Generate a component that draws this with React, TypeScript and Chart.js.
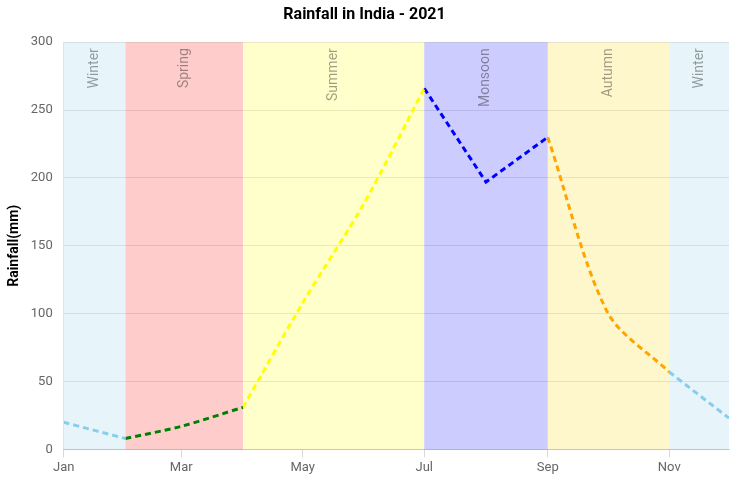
import React, { useEffect, useRef } from "react";
import { Chart, registerables } from "chart.js";

Chart.register(...registerables);

const year = 2021;
const months = ["Jan", "Feb", "Mar", "Apr", "May", "Jun", "Jul", "Aug", "Sep", "Oct", "Nov", "Dec"];
const rainfall = [20, 8, 17, 31, 108, 182, 266, 197, 230, 101, 57, 23];
const tickMonths = [0, 2, 4, 6, 8, 10];
const seasonNames = ["Winter", "Spring", "Summer", "Monsoon", "Autumn", "Winter"];
const seasonStart = [0, 1, 3, 6, 8, 10];
const seasonEnd = [1, 3, 6, 8, 10, 11];
const seasonFill = [
  "rgba(135,206,235,0.2)",
  "rgba(255,0,0,0.2)",
  "rgba(255,255,0,0.2)",
  "rgba(0,0,255,0.2)",
  "rgba(255,215,0,0.2)",
  "rgba(135,206,235,0.2)",
];
const seasonLine = ["skyblue", "green", "yellow", "blue", "orange", "skyblue"];
const seasonTension = [0.3, 0.3, 0.3, 0, 0.3, 0.3];

// day of year for the first day of month m (time scale emulated on a linear axis)
const dayOf = (m: number) => (Date.UTC(year, m, 1) - Date.UTC(year, 0, 1)) / 86400000;

const bandsPlugin = {
  id: "bands",
  beforeDatasetsDraw(chart: any) {
    const { ctx, chartArea, scales } = chart;
    const x = scales.x;
    ctx.save();
    for (let s = 0; s < seasonNames.length; s++) {
      const x0 = x.getPixelForValue(dayOf(seasonStart[s]));
      const x1 = Math.min(x.getPixelForValue(dayOf(seasonEnd[s])), chartArea.right);
      ctx.fillStyle = seasonFill[s];
      ctx.fillRect(x0, chartArea.top, x1 - x0, chartArea.bottom - chartArea.top);
      ctx.save();
      ctx.translate((x0 + x1) / 2, chartArea.top + 6);
      ctx.rotate(-Math.PI / 2);
      ctx.fillStyle = "rgba(0,0,0,0.38)";
      ctx.font = "14px Roboto";
      ctx.textAlign = "right";
      ctx.textBaseline = "middle";
      ctx.fillText(seasonNames[s], 0, 0);
      ctx.restore();
    }
    ctx.restore();
  },
};

export default function App() {
  const ref = useRef<HTMLCanvasElement>(null);
  useEffect(() => {
    if (!ref.current) return;
    const datasets = seasonNames.map((name, s) => {
      const pts = [];
      for (let i = seasonStart[s]; i <= seasonEnd[s]; i++) pts.push({ x: dayOf(i), y: rainfall[i] });
      return {
        label: name,
        data: pts,
        borderColor: seasonLine[s],
        borderWidth: 3,
        borderDash: [6, 4],
        pointRadius: 0,
        tension: seasonTension[s],
        fill: false,
      };
    });
    const chart = new Chart(ref.current, {
      type: "line",
      data: { datasets },
      plugins: [bandsPlugin],
      options: {
        animation: false,
        responsive: true,
        maintainAspectRatio: false,
        layout: { padding: { left: 0, right: 12, bottom: 0 } },
        font: { family: "Roboto" },
        plugins: {
          legend: { display: false },
          tooltip: { enabled: false },
          title: {
            display: true,
            text: "Rainfall in India - 2021",
            color: "#000",
            font: { family: "Roboto", size: 16, weight: "bold" },
            padding: { top: 5, bottom: 18 },
          },
        },
        scales: {
          x: {
            type: "linear",
            min: dayOf(0),
            max: dayOf(11),
            afterBuildTicks: (scale: any) => {
              scale.ticks = tickMonths.map((m) => ({ value: dayOf(m) }));
            },
            grid: { drawOnChartArea: false, color: "rgba(0,0,0,0.15)" },
            border: { color: "rgba(0,0,0,0.15)" },
            ticks: {
              autoSkip: false,
              maxRotation: 0,
              color: "#666",
              font: { family: "Roboto", size: 13 },
              callback: (v: any) => {
                const m = tickMonths.find((k) => dayOf(k) === Number(v));
                return m === undefined ? null : months[m];
              },
            },
          },
          y: {
            min: 0,
            max: 300,
            grid: { color: "rgba(0,0,0,0.1)", drawTicks: false },
            border: { color: "rgba(0,0,0,0.1)" },
            ticks: {
              stepSize: 50,
              padding: 11,
              color: "#666",
              font: { family: "Roboto", size: 13 },
            },
            title: {
              display: true,
              text: "Rainfall(mm)",
              color: "#000",
              padding: { top: 6, bottom: -3 },
              font: { family: "Roboto", size: 14, weight: "bold" },
            },
          },
        },
      },
    });
    return () => chart.destroy();
  }, []);
  return (
    <div style={{ position: "fixed", left: 0, top: 0, width: 741, height: 479 }}>
      <canvas ref={ref} />
    </div>
  );
}
